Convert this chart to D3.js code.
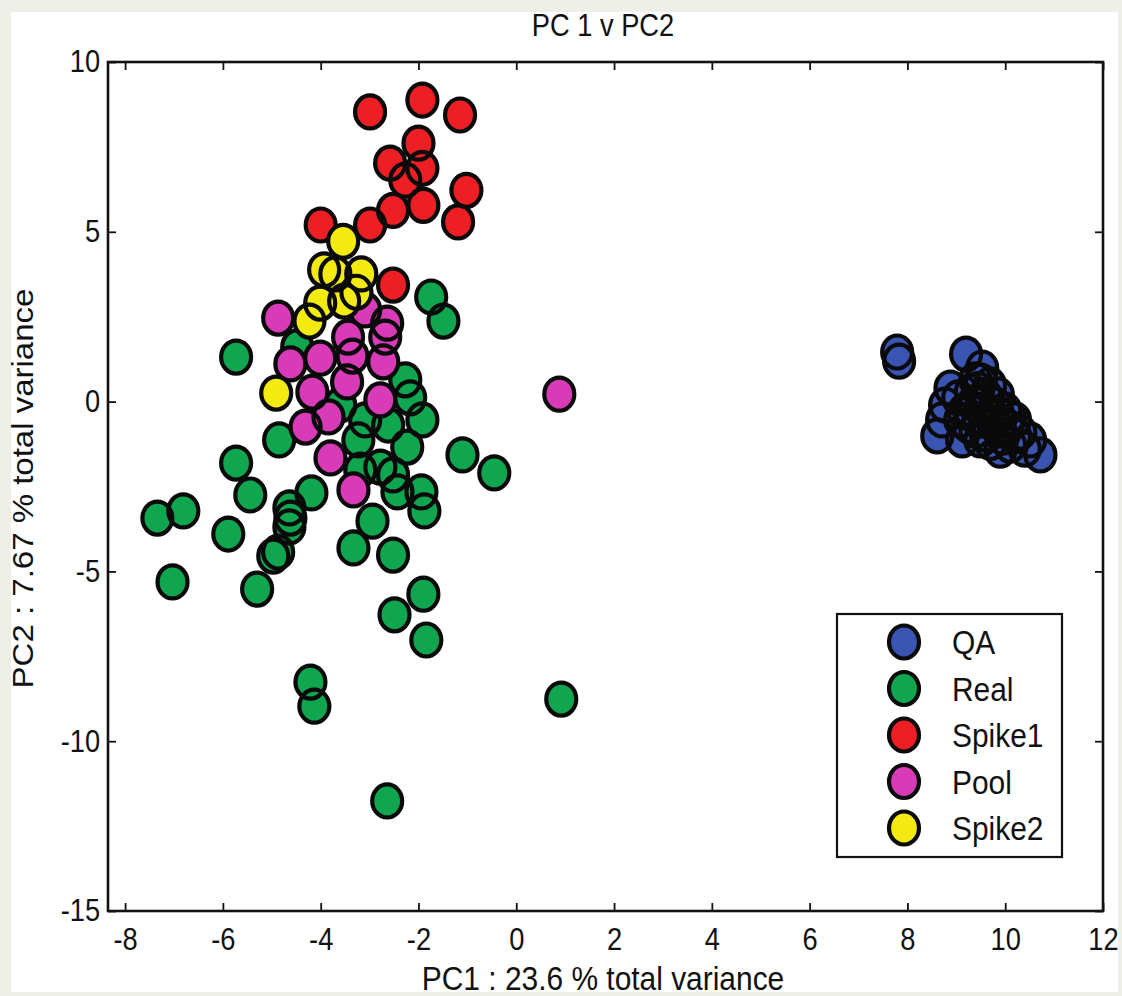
<!DOCTYPE html>
<html>
<head>
<meta charset="utf-8">
<script src="https://cdn.jsdelivr.net/npm/d3@7"></script>
<style>
  html, body { margin: 0; padding: 0; background: #efefe9; }
  svg { display: block; }
  text { font-family: "Liberation Sans", Arial, Helvetica, sans-serif; fill: #111; }
</style>
</head>
<body>
<svg id="chart" width="1122" height="996"></svg>
<script>
// ---------------- data ----------------
const categories = ["QA", "Real", "Spike1", "Pool", "Spike2"];
const seriesColors = ["#3a54b2", "#10a650", "#ee1f24", "#d93bb8", "#f3ea12"];

const qaPoints = [
  [7.79, 1.46], [7.83, 1.19], [9.20, 1.40], [9.53, 0.99], [9.39, 0.64],
  [8.88, 0.40], [8.77, -0.10], [8.71, -0.54], [8.61, -1.01], [9.12, -1.13],
  [9.59, 0.19], [9.80, -0.10], [10.00, -0.25], [9.28, -0.25], [9.59, -0.54],
  [9.90, -0.84], [10.31, -0.90], [10.10, -1.28], [9.90, -1.43], [10.51, -1.13],
  [10.72, -1.57], [9.69, 0.49], [9.08, -0.54], [9.39, -0.84], [10.20, -0.54],
  [9.04, 0.11], [9.49, -1.13],
  [9.45, 0.35], [9.65, 0.05], [9.85, -0.35], [9.55, -0.25], [9.35, -0.05],
  [9.75, -0.65], [10.05, -0.75], [9.95, -1.05], [9.60, -0.95], [9.25, -0.70],
  [9.15, -0.30], [9.50, 0.60], [9.70, -1.20], [10.20, -1.00], [10.40, -1.40],
  [9.30, 0.30], [9.85, 0.20], [10.10, -0.45], [9.45, -0.55], [9.70, -0.35]
];

const realPoints = [
  [-5.73, 1.31], [-1.74, 3.08], [-1.49, 2.37], [-2.17, 0.11], [-1.92, -0.54],
  [-2.62, -0.69], [-4.85, -1.13], [-3.23, -1.13], [-2.23, -1.34], [-1.10, -1.57],
  [-0.45, -2.10], [-5.73, -1.81], [-5.44, -2.75], [-4.19, -2.69], [-6.81, -3.22],
  [-7.34, -3.43], [-5.89, -3.90], [-4.64, -3.13], [-4.62, -3.43], [-4.64, -3.69],
  [-4.97, -4.55], [-4.87, -4.43], [-2.94, -3.52], [-3.33, -4.31], [-2.52, -4.52],
  [-2.78, -1.93], [-2.52, -2.16], [-2.43, -2.66], [-1.94, -2.66], [-1.88, -3.22],
  [-7.03, -5.31], [-5.30, -5.52], [-1.90, -5.67], [-2.49, -6.28], [-1.84, -7.02],
  [-4.21, -8.26], [-4.13, -8.97], [0.92, -8.76], [-2.64, -11.76], [-3.19, -2.02],
  [-4.48, 1.61], [-3.60, -0.10], [-3.09, -0.54], [-2.27, 0.64]
];

const spike1Points = [
  [-2.99, 8.53], [-1.92, 8.88], [-1.15, 8.44], [-2.00, 7.61], [-2.58, 7.02],
  [-1.92, 6.87], [-2.27, 6.52], [-1.02, 6.22], [-1.90, 5.78], [-2.52, 5.63],
  [-1.19, 5.29], [-2.99, 5.20], [-4.00, 5.20], [-2.52, 3.43]
];

const poolPoints = [
  [-4.87, 2.46], [-3.09, 2.70], [-2.64, 2.31], [-2.68, 1.90], [-3.44, 1.90],
  [-4.62, 1.11], [-4.01, 1.28], [-3.35, 1.34], [-2.72, 1.17], [-3.46, 0.58],
  [-4.17, 0.28], [-2.78, 0.05], [-3.84, -0.45], [-4.31, -0.75], [-3.80, -1.66],
  [-3.33, -2.60], [0.88, 0.22]
];

const spike2Points = [
  [-3.54, 4.72], [-3.93, 3.88], [-3.70, 3.76], [-3.17, 3.76], [-3.27, 3.22],
  [-4.01, 2.90], [-3.52, 2.96], [-4.23, 2.37], [-4.91, 0.25]
];

const xTicks = [-8, -6, -4, -2, 0, 2, 4, 6, 8, 10, 12];
const yTicks = [-15, -10, -5, 0, 5, 10];

const titleText = "PC 1 v PC2";
const xLabelText = "PC1 : 23.6 % total variance";
const yLabelText = "PC2 : 7.67 % total variance";

const allSeries = [qaPoints, realPoints, spike1Points, poolPoints, spike2Points];

// ---------------- layout ----------------
const svg = d3.select("#chart");
const L = 108, R = 1103, T = 62, B = 911;
const mRx = 15, mRy = 16.5, markerStroke = 4.2;
const squeeze = 0.88;   // the original figure is slightly narrowed horizontally

svg.append("rect").attr("x", 11).attr("y", 12).attr("width", 1107).attr("height", 980)
  .attr("fill", "#ffffff");

const x = d3.scaleLinear().domain([-8.35, 12]).range([L, R]);
const y = d3.scaleLinear().domain([-15, 10]).range([B, T]);

// axes (ticks pointing inward)
const tickLen = 8;
const fmt = d => String(d);
const gx = svg.append("g").attr("transform", `translate(0,${B})`)
  .call(d3.axisBottom(x).tickValues(xTicks).tickSizeInner(-tickLen).tickSizeOuter(0).tickPadding(17)
    .tickFormat(fmt));
const gxTop = svg.append("g").attr("transform", `translate(0,${T})`)
  .call(d3.axisTop(x).tickValues(xTicks).tickSizeInner(-tickLen).tickSizeOuter(0).tickFormat(""));
const gy = svg.append("g").attr("transform", `translate(${L},0)`)
  .call(d3.axisLeft(y).tickValues(yTicks).tickSizeInner(-tickLen).tickSizeOuter(0).tickPadding(9)
    .tickFormat(fmt));
const gyRight = svg.append("g").attr("transform", `translate(${R},0)`)
  .call(d3.axisRight(y).tickValues(yTicks).tickSizeInner(-tickLen).tickSizeOuter(0).tickFormat(""));

[gx, gxTop, gy, gyRight].forEach(g => {
  g.select(".domain").remove();
  g.selectAll(".tick line").attr("stroke", "#111").attr("stroke-width", 1.8);
  g.selectAll(".tick text").attr("font-size", 31).attr("fill", "#111")
    .attr("font-family", "'Liberation Sans', Arial, sans-serif")
    .attr("transform", `scale(${squeeze},1)`);
});

// box
svg.append("rect").attr("x", L).attr("y", T).attr("width", R - L).attr("height", B - T)
  .attr("fill", "none").attr("stroke", "#111").attr("stroke-width", 2.6);

// points: each group paints all its faces first, then all its edges
const plot = svg.append("g");
allSeries.forEach((pts, i) => {
  const g = plot.append("g").attr("class", "series-" + categories[i]);
  g.append("g").selectAll("ellipse").data(pts).join("ellipse")
    .attr("cx", d => x(d[0])).attr("cy", d => y(d[1])).attr("rx", mRx).attr("ry", mRy)
    .attr("fill", seriesColors[i]).attr("stroke", "none");
  g.append("g").selectAll("ellipse").data(pts).join("ellipse")
    .attr("cx", d => x(d[0])).attr("cy", d => y(d[1])).attr("rx", mRx).attr("ry", mRy)
    .attr("fill", "none").attr("stroke", "#0a0a0a").attr("stroke-width", markerStroke);
});

// title and labels
function squeezedText(px, py, size, str, rot) {
  return svg.append("text")
    .attr("transform", `translate(${px},${py}) scale(${squeeze},1)` + (rot ? ` rotate(${rot})` : ""))
    .attr("text-anchor", "middle").attr("font-size", size).text(str);
}
squeezedText(603, 36, 31, titleText);
squeezedText(603, 990, 34, xLabelText);
squeezedText(33, (T + B) / 2 + 2, 33, yLabelText, -90);

// legend
const lg = svg.append("g");
lg.append("rect").attr("x", 837).attr("y", 614).attr("width", 225).attr("height", 243)
  .attr("fill", "#fff").attr("stroke", "#111").attr("stroke-width", 2.2);
const legendY = d3.scalePoint().domain(categories).range([642, 828]);
categories.forEach((c, i) => {
  lg.append("ellipse").attr("cx", 904).attr("cy", legendY(c)).attr("rx", mRx).attr("ry", mRy)
    .attr("fill", seriesColors[i]).attr("stroke", "#0a0a0a").attr("stroke-width", markerStroke);
  lg.append("text").attr("transform", `translate(952,${legendY(c) + 12}) scale(${squeeze},1)`)
    .attr("font-size", 34).text(c);
});
</script>
</body>
</html>
